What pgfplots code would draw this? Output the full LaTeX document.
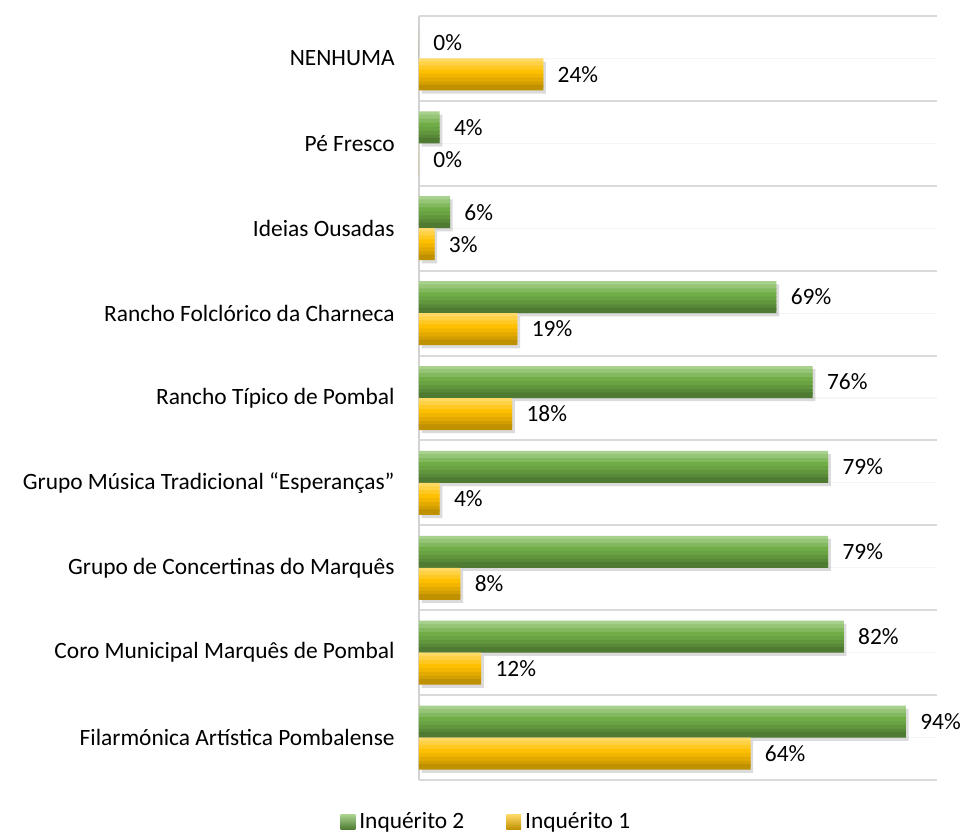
\documentclass[border=0pt]{standalone}
\usepackage{pgfplots}
\usepackage{pgfplotstable}
\pgfplotsset{compat=1.18}
\usepackage{fontspec}
\setmainfont{Carlito}
\definecolor{gtop}{HTML}{A9D18E}
\definecolor{gmid}{HTML}{70AD47}
\definecolor{gbot}{HTML}{4E7A31}
\definecolor{ytop}{HTML}{FFD966}
\definecolor{ymid}{HTML}{FFC000}
\definecolor{ybot}{HTML}{BF9000}
\pgfplotstableread{
y g o
0 94 64
1 82 12
2 79 8
3 79 4
4 76 18
5 69 19
6 6 3
7 4 0
8 0 24
}\data
\newcommand\stripe[3]{\addplot[forget plot, draw=none, fill=#1, bar width=2.8pt, bar shift=#2] table[x=#3, y=y]{\data};}
\begin{document}
\begin{tikzpicture}
\useasboundingbox (-209.5pt,-28pt) rectangle (270.5pt,390pt);
\begin{axis}[
  scale only axis, width=259pt, height=382pt,
  xmin=0, xmax=100, ymin=-0.5, ymax=8.5,
  axis x line=none, axis y line*=left,
  y axis line style={draw=gray!35, line width=0.8pt, -},
  xtick=\empty,
  ytick={0,...,8},
  yticklabels={Filarmónica Artística Pombalense, Coro Municipal Marquês de Pombal, Grupo de Concertinas do Marquês, Grupo Música Tradicional “Esperanças”, Rancho Típico de Pombal, Rancho Folclórico da Charneca, Ideias Ousadas, Pé Fresco, NENHUMA},
  major tick length=0pt,
  yticklabel style={font=\fontsize{11.7}{13}\selectfont, inner sep=0pt, xshift=-12pt},
  ymajorgrids, major grid style={gray!8, line width=0.6pt},
  extra y ticks={-0.5,0.5,...,8.5},
  extra y tick labels={},
  extra y tick style={major grid style={gray!30, line width=1pt}},
  xbar,
  /pgf/number format/assume math mode=true,
  legend style={at={(0.132,-0.055)}, anchor=center, draw=none, fill=none, legend columns=2, font=\fontsize{11.7}{13}\selectfont, /tikz/every even column/.append style={column sep=19pt}},
  legend image code/.code={\fill[#1] (0pt,-3.7pt) rectangle (7.4pt,3.7pt);},
]
% shadows
\addplot[forget plot, draw=none, fill=black, opacity=0.14, bar width=16pt, bar shift=8pt,
  transform canvas={xshift=1.3pt, yshift=-1.6pt}] table[x=g, y=y]{\data};
\addplot[forget plot, draw=none, fill=black, opacity=0.14, bar width=16pt, bar shift=-8pt,
  transform canvas={xshift=1.3pt, yshift=-1.6pt}] table[x=o, y=y]{\data};
% green stripes (top to bottom)
\stripe{gtop}{14.6pt}{g}
\stripe{gtop!67!gmid}{13pt}{g}
\stripe{gtop!33!gmid}{11pt}{g}
\stripe{gmid}{9pt}{g}
\stripe{gmid!80!gbot}{7pt}{g}
\stripe{gmid!55!gbot}{5pt}{g}
\stripe{gmid!30!gbot}{3pt}{g}
\stripe{gbot}{1.4pt}{g}
% yellow stripes
\stripe{ytop}{-1.4pt}{o}
\stripe{ytop!67!ymid}{-3pt}{o}
\stripe{ytop!33!ymid}{-5pt}{o}
\stripe{ymid}{-7pt}{o}
\stripe{ymid!80!ybot}{-9pt}{o}
\stripe{ymid!55!ybot}{-11pt}{o}
\stripe{ymid!30!ybot}{-13pt}{o}
\stripe{ybot}{-14.6pt}{o}
% labels
\addplot[forget plot, draw=none, fill=none, bar width=16pt, bar shift=8pt,
  nodes near coords={\pgfmathprintnumber{\pgfplotspointmeta}\%},
  nodes near coords style={font=\fontsize{11.7}{13}\selectfont, anchor=west, inner sep=0pt, xshift=7pt, text=black}]
  table[x=g, y=y]{\data};
\addplot[forget plot, draw=none, fill=none, bar width=16pt, bar shift=-8pt,
  nodes near coords={\pgfmathprintnumber{\pgfplotspointmeta}\%},
  nodes near coords style={font=\fontsize{11.7}{13}\selectfont, anchor=west, inner sep=0pt, xshift=7pt, text=black}]
  table[x=o, y=y]{\data};
\addlegendimage{top color=gtop, middle color=gmid, bottom color=gbot, draw=none}
\addlegendentry{Inquérito 2}
\addlegendimage{top color=ytop, middle color=ymid, bottom color=ybot, draw=none}
\addlegendentry{Inquérito 1}
\end{axis}
\end{tikzpicture}
\end{document}
